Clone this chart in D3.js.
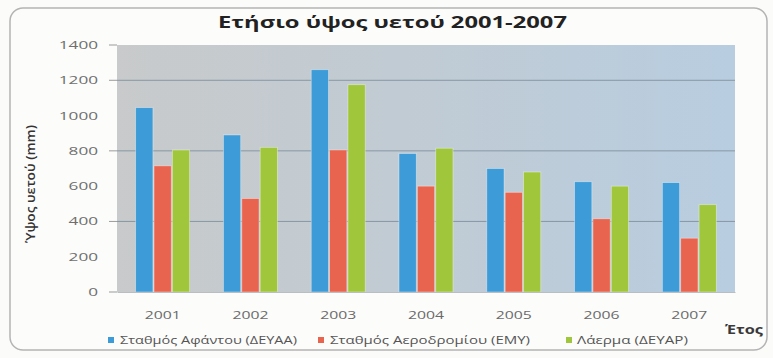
<!DOCTYPE html>
<html>
<head>
<meta charset="utf-8">
<script src="https://cdn.jsdelivr.net/npm/d3@7"></script>
<style>
  html, body { margin: 0; padding: 0; background: #fbfbfa; }
  svg { display: block; }
</style>
</head>
<body>
<svg id="chart" width="773" height="358"></svg>
<script>
// Annual rainfall per station, 2001-2007 (mm)
const years = ["2001", "2002", "2003", "2004", "2005", "2006", "2007"];
const afantou = [1045, 890, 1260, 785, 700, 625, 620];
const aerodromio = [715, 530, 805, 600, 565, 415, 305];
const laerma = [805, 820, 1175, 815, 680, 600, 495];
const seriesNames = ["Σταθμός Αφάντου (ΔΕΥΑΑ)", "Σταθμός Αεροδρομίου (ΕΜΥ)", "Λάερμα (ΔΕΥΑΡ)"];
const yTicks = [0, 200, 400, 600, 800, 1000, 1200, 1400];
const gridTicks = [400, 800, 1200];

const seriesValues = [afantou, aerodromio, laerma];
const colors = ["#3d9bd7", "#e9644f", "#a0c63c"];
const font = "'Open Sans', 'Noto Sans', sans-serif";

const svg = d3.select("#chart");
const plot = { left: 117, right: 735, top: 45, bottom: 292 };

// frame
svg.append("rect")
  .attr("x", 10).attr("y", 8).attr("width", 757).attr("height", 342)
  .attr("rx", 13).attr("ry", 13)
  .attr("fill", "#fcfcfb").attr("stroke", "#b4b4b4").attr("stroke-width", 1.5);

// plot background gradient
const defs = svg.append("defs");
const grad = defs.append("linearGradient").attr("id", "plotBg")
  .attr("x1", "0%").attr("x2", "100%").attr("y1", "0%").attr("y2", "0%");
grad.append("stop").attr("offset", "0%").attr("stop-color", "#c8cacb");
grad.append("stop").attr("offset", "45%").attr("stop-color", "#c1cbd3");
grad.append("stop").attr("offset", "100%").attr("stop-color", "#b8cde0");

const x0 = d3.scaleBand().domain(years)
  .range([plot.left, plot.right]).paddingInner(0.36).paddingOuter(0.2);
const x1 = d3.scaleBand().domain(d3.range(3))
  .range([0, x0.bandwidth()]).padding(0.06);
const y = d3.scaleLinear().domain([0, 1400]).range([plot.bottom, plot.top]);

svg.append("rect")
  .attr("x", plot.left).attr("y", plot.top)
  .attr("width", plot.right - plot.left).attr("height", plot.bottom - plot.top)
  .attr("fill", "url(#plotBg)");

// gridlines
svg.append("g").selectAll("line").data(gridTicks).join("line")
  .attr("x1", plot.left).attr("x2", plot.right)
  .attr("y1", d => y(d)).attr("y2", d => y(d))
  .attr("stroke", "#8797a4").attr("stroke-width", 1);

// y axis
const yAxis = svg.append("g")
  .attr("transform", `translate(${plot.left},0)`)
  .call(d3.axisLeft(y).tickValues(yTicks).tickFormat(d3.format("d"))
    .tickSize(0).tickPadding(19));
yAxis.select(".domain").remove();
yAxis.selectAll("text")
  .attr("font-family", font).attr("font-size", 11).attr("fill", "#6f6f6f")
  .attr("textLength", d => String(d).length * 9.8)
  .attr("lengthAdjust", "spacingAndGlyphs");
// small tick marks
svg.append("g").selectAll("line").data([0, 400, 800, 1200, 1400]).join("line")
  .attr("x1", plot.left - 8).attr("x2", plot.left)
  .attr("y1", d => y(d)).attr("y2", d => y(d))
  .attr("stroke", "#9a9a9a").attr("stroke-width", 1);

// bars
const groups = svg.append("g").selectAll("g").data(years).join("g")
  .attr("transform", d => `translate(${x0(d)},0)`);
groups.selectAll("rect")
  .data((yr, i) => seriesValues.map((vals, s) => ({ s, v: vals[i] })))
  .join("rect")
  .attr("x", d => x1(d.s))
  .attr("width", x1.bandwidth())
  .attr("y", d => y(d.v))
  .attr("height", d => y(0) - y(d.v))
  .attr("fill", d => colors[d.s])
  .attr("stroke", "rgba(255,255,255,0.45)").attr("stroke-width", 0.8);

// x axis
const xAxis = svg.append("g")
  .attr("transform", `translate(0,${plot.bottom})`)
  .call(d3.axisBottom(x0).tickSize(0).tickPadding(20));
xAxis.select(".domain").attr("stroke", "#b9bec2");
xAxis.selectAll("text")
  .attr("font-family", font).attr("font-size", 10.5).attr("fill", "#6a6a6a")
  .attr("textLength", 36).attr("lengthAdjust", "spacingAndGlyphs");

// title
svg.append("text")
  .attr("x", 218).attr("y", 28)
  .attr("font-family", font).attr("font-size", 16).attr("font-weight", "bold")
  .attr("fill", "#222")
  .attr("textLength", 349).attr("lengthAdjust", "spacingAndGlyphs")
  .text("Ετήσιο ύψος υετού 2001-2007");

// y axis title
svg.append("text")
  .attr("transform", "translate(35,184) rotate(-90)")
  .attr("text-anchor", "middle")
  .attr("font-family", font).attr("font-size", 12.5).attr("font-weight", 600)
  .attr("fill", "#333")
  .attr("textLength", 118).attr("lengthAdjust", "spacingAndGlyphs")
  .text("Ύψος υετού (mm)");

// x axis title
svg.append("text")
  .attr("x", 725).attr("y", 334)
  .attr("font-family", font).attr("font-size", 13).attr("font-weight", "bold")
  .attr("fill", "#3a3a3a")
  .attr("textLength", 38).attr("lengthAdjust", "spacingAndGlyphs")
  .text("Έτος");

// legend
const legendItems = [
  { mx: 108, tx: 120, w: 177 },
  { mx: 318, tx: 330, w: 200 },
  { mx: 566, tx: 577, w: 111 }
];
const legend = svg.append("g").selectAll("g").data(legendItems).join("g");
legend.append("rect")
  .attr("x", d => d.mx).attr("y", 337).attr("width", 6).attr("height", 6)
  .attr("fill", (d, i) => colors[i]);
legend.append("text")
  .attr("x", d => d.tx).attr("y", 344)
  .attr("font-family", font).attr("font-size", 10.5).attr("fill", "#555")
  .attr("textLength", d => d.w).attr("lengthAdjust", "spacingAndGlyphs")
  .text((d, i) => seriesNames[i]);
</script>
</body>
</html>
